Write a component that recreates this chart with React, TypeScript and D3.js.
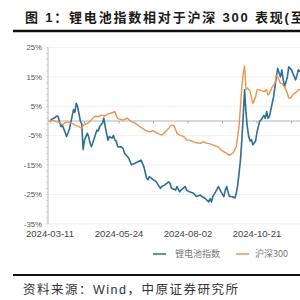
import React from "react";
import * as d3 from "d3";

// Trading-day index (0 = 2024-03-11) and relative performance (%)
const liDays = [0,1,3,5,6,7,8,9,11,12,14,16,17,18,19,20,22,23,24,25,27,28,29,30,31,34,35,36,38,39,40,41,42,43,45,46,47,48,49,52,53,54,57,59,62,64,66,68,70,71,72,75,77,80,81,83,86,87,88,91,92,94,95,98,99,101,104,106,109,110,112,115,116,117,118,120,122,124,126,127,128,129,130,132,134,135,136,137,138,139,140,141,142,143,144,145,146,147,149,150,151,152,153,155,156,157,158,159,161,162,163,164,165,167,168,169,170,172,173,175,176,178,179,180,182];
const liValues = [0,0.5,1.0,1.7,1.4,-0.5,-1.9,-1.5,-3.9,-5.3,-2.9,1.5,3.9,2.9,6.0,4.9,0,-1.0,-9.7,-6.5,-4.2,-5.3,-7.5,-8.7,-7.5,-3.1,-3.4,-1.9,-0.8,1.0,-1.9,-4.2,-6.5,-5.3,-5.8,-4.9,-6.5,-6.8,-8.7,-8.8,-9.4,-11.0,-12.6,-14.9,-14.3,-13.8,-13.3,-15.5,-19.4,-20.0,-18.9,-20.0,-20.7,-22.9,-22.3,-21.8,-20.7,-21.2,-22.9,-23.5,-22.3,-24.1,-23.5,-22.3,-23.5,-24.1,-24.6,-25.7,-25.2,-25.7,-26.2,-27.5,-26.4,-27.5,-25.7,-24.1,-22.3,-24.1,-25.7,-23.5,-22.3,-24.1,-25.7,-25.7,-26.2,-24.6,-21.8,-17.8,-13.3,-6.5,1.5,10.6,3.0,-2.0,-5.3,-6.8,-6.3,-8.1,-6.8,-3.7,-1.9,0,0.4,1.9,0.9,3.2,0.9,1.5,6.0,8.2,11.6,15.0,17.9,15.0,17.4,14.0,11.6,15.0,18.4,17.4,16.2,14.0,15.6,17.4,16.5];

const hsDays = [0,2,5,7,9,11,13,16,18,21,23,24,27,29,31,33,35,37,40,42,45,47,48,49,51,53,56,57,59,62,65,69,72,75,76,78,81,83,86,88,90,92,94,97,99,101,104,106,109,111,114,116,118,121,122,124,128,130,133,135,136,137,138,139,140,141,142,143,145,146,147,149,150,152,155,157,158,159,161,163,164,165,167,168,170,172,173,174,175,177,179,180,182];
const hsValues = [0,0.3,-0.3,-0.5,-1.3,-0.5,-0.3,-0.8,-1.4,-1.9,-2.5,-1.5,-0.8,-0.2,1.0,1.7,1.4,2.0,1.7,2.4,2.8,3.2,1.9,1.0,0.5,0.3,1.0,0.5,-0.2,-0.8,-1.9,-3.1,-3.7,-3.3,-3.7,-4.2,-4.8,-3.9,-2.5,-1.4,-1.7,-4.2,-4.8,-5.3,-6.5,-6.5,-7.1,-7.4,-7.6,-7.1,-7.6,-7.8,-8.1,-8.7,-8.8,-9.9,-11.0,-11.7,-10.7,-8.7,-5.3,-1.9,4.9,11.6,16.0,18.7,10.7,11.2,10.2,7.8,6.0,8.2,10.6,10.6,10.0,10.6,8.8,9.4,11.6,12.8,15.6,15.0,12.8,12.8,11.6,9.4,7.8,7.8,8.2,9.4,10.0,10.6,10.8];

const xTickLabels = ["2024-03-11", "2024-05-24", "2024-08-02", "2024-10-21"];
const labelEvery = 50;
const yTicks = [25, 15, 5, -5, -15, -25, -35];

const seriesNames = ["锂电池指数", "沪深300"];
const colors = ["#2e6e98", "#eb9450"];

export default function App() {
  const W = 300, H = 300;
  const x = d3.scaleLinear().domain([0, 200]).range([50, 50 + 200 * 1.38]);
  const y = d3.scaleLinear().domain([-35, 25]).range([223.9, 47.5]);
  const line = d3.line<[number, number]>().x(d => x(d[0])).y(d => y(d[1]));
  const li = liDays.map((d, i) => [d, liValues[i]] as [number, number]);
  const hs = hsDays.map((d, i) => [d, hsValues[i]] as [number, number]);
  const minor = d3.range(-35, 25.01, 2);
  const zeroTicks = d3.range(0, 200, 25);
  const axisX = 48;
  return (
    <svg width={W} height={H} style={{ position: "absolute", left: 0, top: 0, background: "#fff" }}
      fontFamily="'Liberation Sans', Arial, sans-serif">
      <rect x={0} y={0} width={W} height={H} fill="#fff" />
      <text x={25} y={22} fontSize={13} fontWeight="bold" fill="#1a1a1a" letterSpacing={1.8}
        fontFamily="'Liberation Sans', 'Noto Sans CJK SC', sans-serif">图 1：锂电池指数相对于沪深 300 表现(至</text>
      <line x1={13} x2={300} y1={31} y2={31} stroke="#111" strokeWidth={2.5} />
      {yTicks.filter(t => t !== 0).map(t => (
        <line key={"g" + t} x1={axisX} x2={W} y1={y(t)} y2={y(t)} stroke="#ececec" strokeWidth={0.8} />
      ))}
      <line x1={axisX} x2={axisX} y1={y(25)} y2={y(-35)} stroke="#aaa" strokeWidth={0.8} />
      {minor.map(t => (
        <line key={"m" + t} x1={axisX - 2} x2={axisX} y1={y(t)} y2={y(t)} stroke="#bbb" strokeWidth={0.6} />
      ))}
      {yTicks.map(t => (
        <text key={"yl" + t} x={42} y={y(t)} dy="0.35em" textAnchor="end" fontSize={7.8} fill="#555">{t}%</text>
      ))}
      <line x1={axisX} x2={W} y1={y(0)} y2={y(0)} stroke="#aaa" strokeWidth={0.9} />
      {zeroTicks.map(t => (
        <line key={"zt" + t} x1={x(t)} x2={x(t)} y1={y(0)} y2={y(0) + 2.5} stroke="#999" strokeWidth={0.8} />
      ))}
      {xTickLabels.map((l, i) => (
        <text key={l} x={x(i * labelEvery)} y={237} textAnchor="middle" fontSize={9.5} fill="#444">{l}</text>
      ))}
      <path d={line(li) || ""} fill="none" stroke={colors[0]} strokeWidth={1.6} strokeLinejoin="round" />
      <path d={line(hs) || ""} fill="none" stroke={colors[1]} strokeWidth={1.4} strokeLinejoin="round" />
      <line x1={153} x2={166} y1={254} y2={254} stroke={colors[0]} strokeWidth={1.5} />
      <text x={175} y={257} fontSize={9} fill="#777" fontFamily="'Noto Sans CJK SC', sans-serif">{seriesNames[0]}</text>
      <line x1={236} x2={249} y1={254} y2={254} stroke={colors[1]} strokeWidth={1.5} />
      <text x={255} y={257} fontSize={9} fill="#777" fontFamily="'Noto Sans CJK SC', sans-serif">{seriesNames[1]}</text>
      <line x1={13} x2={300} y1={275} y2={275} stroke="#111" strokeWidth={2.2} />
      <text x={23} y={294} fontSize={12.5} fill="#333" letterSpacing={1.5}
        fontFamily="'Liberation Sans', 'Noto Sans CJK SC', sans-serif">资料来源：Wind，中原证券研究所</text>
    </svg>
  );
}
